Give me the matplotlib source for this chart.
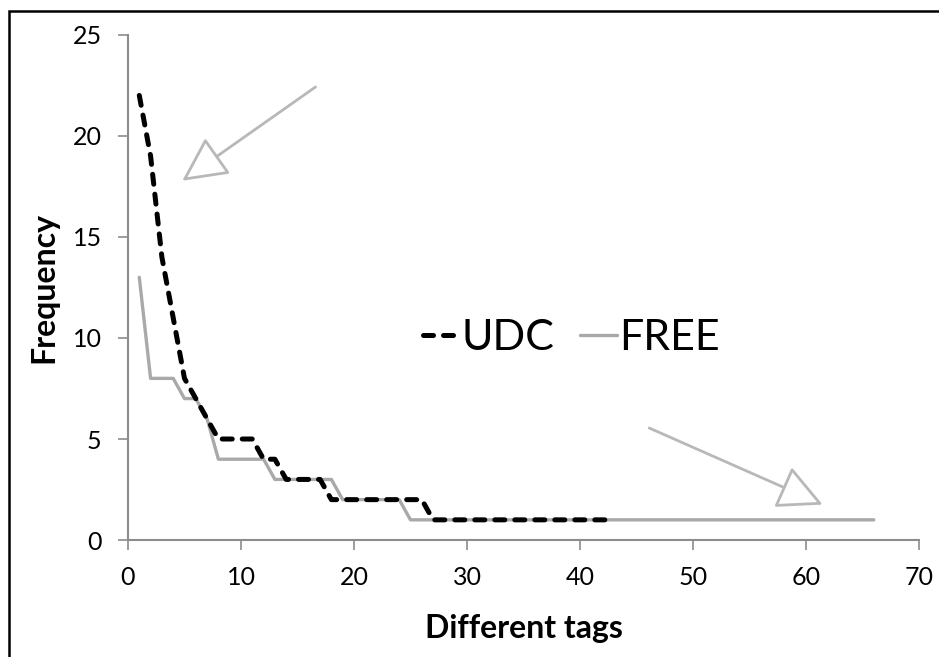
import matplotlib
matplotlib.use("Agg")
import matplotlib.pyplot as plt
from matplotlib.patches import Rectangle

# valeurs (nombre de tags différents -> fréquence)
udc_x = list(range(1, 44))
udc_y = [22, 19, 14, 11, 8, 7, 6, 5, 5, 5, 5, 4, 4, 3, 3, 3, 3, 2, 2, 2,
         2, 2, 2, 2, 2, 2] + [1] * 17

free_x = list(range(1, 67))
free_y = [13, 8, 8, 8, 7, 7, 6, 4, 4, 4, 4, 4, 3, 3, 3, 3, 3, 3, 2, 2,
          2, 2, 2, 2] + [1] * 42

x_ticks = [0, 10, 20, 30, 40, 50, 60, 70]
y_ticks = [0, 5, 10, 15, 20, 25]

plt.rcParams['font.family'] = ['Lato', 'DejaVu Sans']

fig = plt.figure(figsize=(9.39, 6.57), dpi=100)
ax = fig.add_axes([0.1363, 0.178, 0.8424, 0.769])

gray = '#a9a9a9'
ax.plot(free_x, free_y, color=gray, lw=2.4, label='FREE', solid_capstyle='round')
ax.plot(udc_x, udc_y, color='black', lw=3.6, dashes=(2.0, 2.0),
        dash_capstyle='round', label='UDC')

ax.set_xlim(0, 70)
ax.set_ylim(0, 25)
ax.set_xticks(x_ticks)
ax.set_yticks(y_ticks)
for s in ['top', 'right']:
    ax.spines[s].set_visible(False)
for s in ['left', 'bottom']:
    ax.spines[s].set_color('#8c8c8c')
    ax.spines[s].set_linewidth(1.5)
ax.tick_params(axis='both', colors='#8c8c8c', width=1.2, length=7,
               labelsize=18, labelcolor='black')
ax.tick_params(axis='y', pad=12)
ax.tick_params(axis='x', pad=12)

ax.set_xlabel('Different tags', fontsize=23, fontweight='bold', labelpad=18)
ax.set_ylabel('Frequency', fontsize=23, fontweight='bold', labelpad=10)

h, l = ax.get_legend_handles_labels()
ax.legend(h[::-1], l[::-1], loc='center', bbox_to_anchor=(0.56, 0.4), ncol=2,
          frameon=False, fontsize=31, handlelength=0.85, handletextpad=0.05,
          columnspacing=0.6)

# flèches creuses grises
arrow_style = '-|>,head_length=0.7,head_width=0.35'
ax.annotate('', xy=(4.6, 17.7), xytext=(16.8, 22.5),
            arrowprops=dict(arrowstyle=arrow_style, mutation_scale=40,
                            fc='white', ec='#b8b8b8', lw=2))
ax.annotate('', xy=(61.7, 1.7), xytext=(45.9, 5.6),
            arrowprops=dict(arrowstyle=arrow_style, mutation_scale=40,
                            fc='white', ec='#b8b8b8', lw=2))

# cadre
fig.patches.append(Rectangle((9 / 939, -0.1), 1.2, 1 - 11 / 657 + 0.1,
                             transform=fig.transFigure, fill=False,
                             ec='black', lw=1.8))

plt.savefig('out.png', dpi=100)
